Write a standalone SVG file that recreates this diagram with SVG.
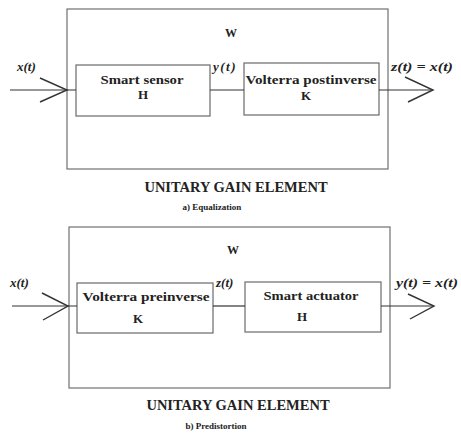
<svg xmlns="http://www.w3.org/2000/svg" width="461" height="436" viewBox="0 0 461 436">
<style>
.box{fill:none;stroke:#6a6a6a;stroke-width:1.2}
.outer{fill:none;stroke:#707070;stroke-width:1.2}
.wire{fill:none;stroke:#333;stroke-width:1.2}
.head{fill:none;stroke:#333;stroke-width:1.4}
text{font-family:"Liberation Serif","Times New Roman",serif;font-weight:bold;fill:#222}
.lbl{font-size:13px}
.sig{font-size:13px;font-style:italic}
.title{font-size:14.5px}
.cap{font-size:9px}
.w{font-size:12px}
.c{text-anchor:middle}
</style>
<rect width="461" height="436" fill="#fff"/>
<g id="top">
<g id="W1"><rect class="outer" x="67" y="9" width="321" height="160"/><text class="w c" x="231" y="37">W</text></g>
<g id="H1"><rect class="box" x="76" y="65" width="134" height="51"/><text class="lbl c" x="142" y="84" textLength="83" lengthAdjust="spacingAndGlyphs">Smart sensor</text><text class="lbl c" x="143" y="99">H</text></g>
<g id="K1"><rect class="box" x="244" y="63" width="135" height="52"/><text class="lbl c" x="311" y="84" textLength="131" lengthAdjust="spacingAndGlyphs">Volterra postinverse</text><text class="lbl c" x="306" y="100">K</text></g>
<g id="connectors1">
<line class="wire" x1="10" y1="90" x2="76" y2="90"/>
<polyline class="head" points="40,78 67,90 40,102"/>
<line class="wire" x1="210" y1="90" x2="244" y2="90"/>
<line class="wire" x1="379" y1="90" x2="433" y2="90"/>
<polyline class="head" points="405,77 433,90 408,102"/>
</g>
<text class="sig" x="17" y="71">x(t)</text>
<text class="sig" x="213" y="71" letter-spacing="1.5">y(t)</text>
<text class="sig" x="391" y="71" textLength="62" lengthAdjust="spacingAndGlyphs">z(t) = x(t)</text>
<text class="title c" x="236" y="192">UNITARY GAIN ELEMENT</text>
<text class="cap c" x="212" y="210">a) Equalization</text>
</g>
<g id="bottom">
<g id="W2"><rect class="outer" x="69" y="227" width="321" height="161"/><text class="w c" x="233" y="254">W</text></g>
<g id="K2"><rect class="box" x="77" y="283" width="136" height="50"/><text class="lbl c" x="146" y="301" textLength="127" lengthAdjust="spacingAndGlyphs">Volterra preinverse</text><text class="lbl c" x="138" y="323">K</text></g>
<g id="H2"><rect class="box" x="245" y="282" width="136" height="50"/><text class="lbl c" x="311" y="300" textLength="95" lengthAdjust="spacingAndGlyphs">Smart actuator</text><text class="lbl c" x="302" y="321">H</text></g>
<g id="connectors2">
<line class="wire" x1="12" y1="306" x2="77" y2="306"/>
<polyline class="head" points="42,293 68,306 43,320"/>
<line class="wire" x1="213" y1="306" x2="245" y2="306"/>
<line class="wire" x1="381" y1="306" x2="434" y2="306"/>
<polyline class="head" points="408,294 434,306 410,319"/>
</g>
<text class="sig" x="10" y="287">x(t)</text>
<text class="sig" x="216" y="287">z(t)</text>
<text class="sig" x="396" y="287" textLength="62" lengthAdjust="spacingAndGlyphs">y(t) = x(t)</text>
<text class="title c" x="238" y="410">UNITARY GAIN ELEMENT</text>
<text class="cap c" x="216" y="429">b) Predistortion</text>
</g>
</svg>
